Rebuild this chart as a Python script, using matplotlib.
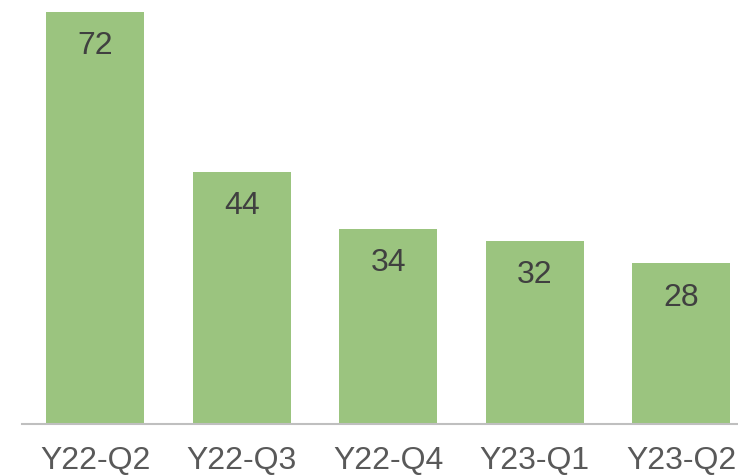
import matplotlib
matplotlib.use("Agg")
import matplotlib.pyplot as plt

categories = ["Y22-Q2", "Y22-Q3", "Y22-Q4", "Y23-Q1", "Y23-Q2"]
values = [72, 44, 34, 32, 28]

plt.rcParams['font.family'] = ['Liberation Sans', 'DejaVu Sans']

W, H = 738, 475
fig = plt.figure(figsize=(W / 100, H / 100), dpi=100)
left = 22
spacing = 146.5
base = 423.5
top = 12
ax = fig.add_axes([left / W, (H - base) / H, 5 * spacing / W, (base - top) / H])

x = list(range(len(categories)))
bars = ax.bar(x, values, width=0.67, color="#9BC47F")
ax.set_xlim(-0.5, len(categories) - 0.5)
ax.set_ylim(0, 72)

for xi, v in zip(x, values):
    ax.annotate(str(v), (xi, v), xytext=(0, -24.5), textcoords="offset points",
                ha="center", va="center", fontsize=23, color="#404040")

ax.set_xticks(x)
ax.set_xticklabels(categories, fontsize=23, color="#595959")
ax.tick_params(axis="x", length=0, pad=16.5)
ax.set_yticks([])
for s in ["top", "right", "left"]:
    ax.spines[s].set_visible(False)
ax.spines["bottom"].set_color("#BFBFBF")
ax.spines["bottom"].set_linewidth(1.5)

fig.savefig("out.png", dpi=100)
